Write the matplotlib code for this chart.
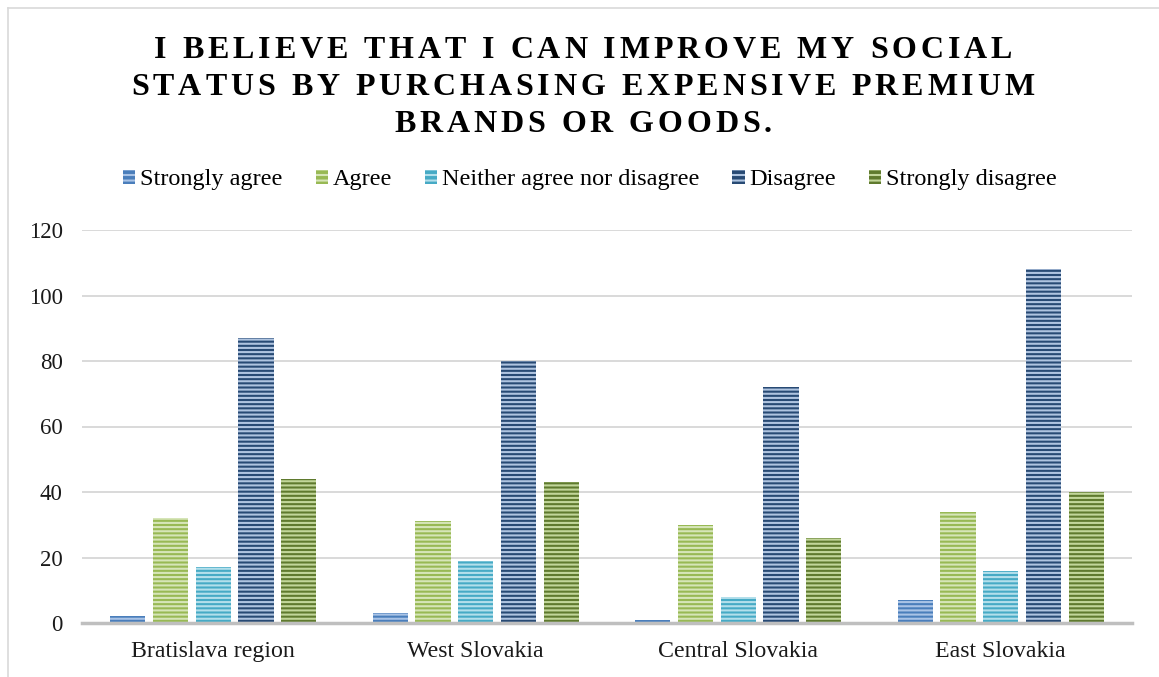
import numpy as np
import matplotlib.pyplot as plt
from matplotlib.patches import Patch
from matplotlib.lines import Line2D
from matplotlib.font_manager import FontProperties, findfont, get_font

regions = ["Bratislava region", "West Slovakia", "Central Slovakia", "East Slovakia"]
answers = ["Strongly agree", "Agree", "Neither agree nor disagree", "Disagree", "Strongly disagree"]

strongly_agree = [2, 3, 1, 7]
agree = [32, 31, 30, 34]
neither = [17, 19, 8, 16]
disagree = [87, 80, 72, 108]
strongly_disagree = [44, 43, 26, 40]

title_lines = ["I BELIEVE THAT I CAN IMPROVE MY SOCIAL",
               "STATUS BY PURCHASING EXPENSIVE PREMIUM",
               "BRANDS OR GOODS."]

# base colour and stripe colour for every answer
farben = ["#4A7EBB", "#98B954", "#46AAC5", "#284A74", "#5F7A2E"]
streifen = ["#A9C3E6", "#D6E5B8", "#B3DFEB", "#AFC4E0", "#C2D69A"]

werte = [strongly_agree, agree, neither, disagree, strongly_disagree]

plt.rcParams['font.family'] = ['Liberation Serif', 'DejaVu Serif']
plt.rcParams['hatch.linewidth'] = 1.5

W, H = 1159, 677
fig = plt.figure(figsize=(W / 100, H / 100), dpi=100)
ax = fig.add_axes([82 / W, 1 - 623 / H, (1132 - 82) / W, (623 - 230) / H])

x = np.arange(len(regions))
breite = 0.1345
schritt = 0.1627
for i, (name, y) in enumerate(zip(answers, werte)):
    pos = x + (i - 2) * schritt
    ax.bar(pos, y, width=breite, color=farben[i], edgecolor=streifen[i],
           hatch='----', linewidth=0, zorder=3)

ax.set_xlim(-0.5, 3.5)
ax.set_ylim(0, 120)
ax.set_yticks(np.arange(0, 121, 20))
ax.set_xticks(x)
ax.set_xticklabels(regions)
ax.tick_params(axis='both', length=0, colors='#1a1a1a')
ax.tick_params(axis='y', pad=14, labelsize=16.5)
ax.tick_params(axis='x', pad=13, labelsize=17.2)
ax.grid(axis='y', color='#d9d9d9', linewidth=1.4, zorder=0)
for s in ['top', 'right', 'left']:
    ax.spines[s].set_visible(False)
ax.spines['bottom'].set_color('#bfbfbf')
ax.spines['bottom'].set_linewidth(2.5)
ax.spines['bottom'].set_zorder(4)

# legend with small striped squares
handles = [Patch(facecolor=farben[i], edgecolor=streifen[i], hatch='---', linewidth=0)
           for i in range(len(answers))]
fig.legend(handles, answers, loc='center', bbox_to_anchor=(590 / W, 1 - 180 / H),
           ncol=5, frameon=False, fontsize=17.5, handlelength=0.5, handleheight=0.5,
           handletextpad=0.2, columnspacing=1.36, borderaxespad=0)

# title: bold capitals with wide letter spacing, placed char by char
prop = FontProperties(family='Liberation Serif', weight='bold', size=23)
font = get_font(findfont(prop))
font.set_size(23, 100)


def vorschub(c):
    return font.load_char(ord(c)).linearHoriAdvance / 65536


sperrung = 3.9
mitte = 583
for zeile, basis in zip(title_lines, [58, 95, 132]):
    gesamt = sum(vorschub(c) for c in zeile) + sperrung * (len(zeile) - 1)
    xp = mitte - gesamt / 2
    for c in zeile:
        if c != ' ':
            fig.text(xp / W, 1 - basis / H, c, fontproperties=prop,
                     ha='left', va='baseline', color='#000000')
        xp += vorschub(c) + sperrung

# thin frame round the chart area
fig.add_artist(Line2D([8 / W, 1.01], [1 - 8 / H, 1 - 8 / H], color='#d9d9d9',
                      linewidth=1.2, transform=fig.transFigure))
fig.add_artist(Line2D([8 / W, 8 / W], [1 - 8 / H, -0.01], color='#d9d9d9',
                      linewidth=1.2, transform=fig.transFigure))

fig.savefig('out.png', dpi=100)
